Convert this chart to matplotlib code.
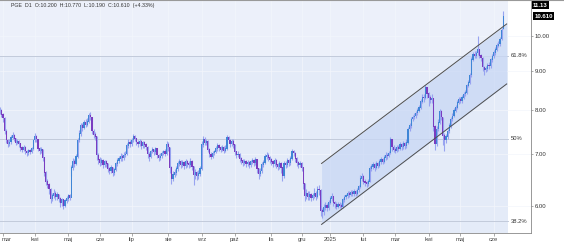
import matplotlib
matplotlib.use("Agg")
import matplotlib.pyplot as plt
import matplotlib.ticker as mticker
import matplotlib.transforms as mtrans
import numpy as np

plt.rcParams['font.family'] = ['Liberation Sans', 'DejaVu Sans']

# ---- data (PGE daily) ----
month_names = ['mar', 'kwi', 'maj', 'cze', 'lip', 'sie', 'wrz', 'paź', 'lis', 'gru',
               '2025', 'lut', 'mar', 'kwi', 'maj', 'cze']
# trading days per month, starting with the last 3 sessions of Feb 2024
month_days = [3, 20, 21, 20, 20, 23, 21, 21, 23, 19, 18, 21, 20, 21, 20, 21, 7]

first_open = 7.90
last_open = 10.20

closes = [
    7.95, 7.98, 7.88,
    7.80, 7.50, 7.30, 7.22, 7.26, 7.36, 7.40, 7.33, 7.25, 7.28, 7.22, 7.14, 7.10, 7.15, 7.06, 7.02, 7.08, 7.04, 7.12, 7.30,
    7.38, 7.32, 7.12, 7.06, 7.10, 6.92, 6.62, 6.45, 6.38, 6.30, 6.12, 6.18, 6.22, 6.15, 6.20, 6.12, 6.04, 6.10, 6.00, 6.08, 6.12,
    6.18, 6.14, 6.72, 6.85, 6.80, 6.95, 7.30, 7.45, 7.62, 7.58, 7.70, 7.65, 7.72, 7.86, 7.82, 7.50, 7.42, 7.38, 6.98, 6.88,
    6.82, 6.86, 6.78, 6.84, 6.80, 6.70, 6.66, 6.72, 6.62, 6.68, 6.80, 6.86, 6.90, 6.96, 6.92, 6.98, 7.00, 7.18, 7.25, 7.22,
    7.30, 7.38, 7.34, 7.26, 7.22, 7.28, 7.18, 7.24, 7.20, 7.15, 7.00, 6.95, 7.06, 7.10, 7.04, 7.12, 6.98, 6.92, 6.96, 7.02, 7.06, 7.00, 7.20,
    7.15, 6.72, 6.50, 6.58, 6.62, 6.70, 6.80, 6.84, 6.78, 6.82, 6.76, 6.84, 6.80, 6.78, 6.85, 6.74, 6.58, 6.62, 6.55, 6.60, 6.70,
    7.20, 7.32, 7.25, 7.28, 7.10, 7.00, 6.95, 7.02, 7.05, 7.12, 7.18, 7.14, 7.10, 7.15, 7.08, 7.12, 7.35, 7.30, 7.22, 7.28, 7.20,
    7.05, 6.98, 7.00, 6.90, 6.86, 6.82, 6.85, 6.80, 6.83, 6.78, 6.84, 6.86, 6.82, 6.88, 6.70, 6.60, 6.65, 6.78, 6.82, 6.95, 6.98, 6.92, 6.88,
    6.84, 6.80, 6.86, 6.78, 6.74, 6.80, 6.72, 6.55, 6.80, 6.78, 6.86, 6.82, 6.90, 7.05, 7.02, 6.90, 6.82, 6.78, 6.80,
    6.72, 6.40, 6.18, 6.22, 6.15, 6.20, 6.14, 6.18, 6.22, 6.16, 6.30, 6.28, 5.90, 5.88, 5.96, 6.00, 5.95, 6.05,
    6.12, 6.16, 6.05, 6.02, 5.98, 6.02, 6.00, 5.97, 6.10, 6.15, 6.18, 6.22, 6.20, 6.24, 6.21, 6.25, 6.22, 6.28, 6.34, 6.50, 6.55,
    6.45, 6.42, 6.40, 6.45, 6.70, 6.74, 6.78, 6.72, 6.80, 6.76, 6.84, 6.88, 6.85, 6.92, 6.98, 6.96, 7.02, 7.32, 7.15, 7.10,
    7.08, 7.15, 7.12, 7.20, 7.16, 7.22, 7.18, 7.25, 7.55, 7.62, 7.78, 7.82, 7.85, 7.92, 7.98, 8.05, 8.20, 8.30, 8.28, 8.55, 8.40,
    8.30, 8.25, 8.28, 7.60, 7.22, 7.55, 7.70, 7.95, 7.82, 7.40, 7.30, 7.38, 7.50, 7.62, 7.78, 7.85, 7.98, 8.05, 8.18, 8.25,
    8.22, 8.30, 8.38, 8.42, 8.60, 8.68, 8.88, 9.30, 9.45, 9.40, 9.48, 9.58, 9.42, 9.35, 9.10, 9.02, 9.05, 9.15, 9.12, 9.30, 9.40,
    9.50, 9.58, 9.70, 9.75, 9.90, 10.17, 10.61,
]
highs = [
    8.05, 8.08, 8.02,
    7.92, 7.82, 7.55, 7.34, 7.32, 7.42, 7.48, 7.44, 7.36, 7.34, 7.31, 7.25, 7.18, 7.20, 7.17, 7.10, 7.12, 7.11, 7.16, 7.34,
    7.46, 7.42, 7.34, 7.15, 7.16, 7.12, 6.95, 6.66, 6.50, 6.42, 6.32, 6.24, 6.30, 6.26, 6.25, 6.22, 6.15, 6.14, 6.12, 6.12, 6.18,
    6.22, 6.22, 6.78, 6.92, 6.90, 7.00, 7.36, 7.52, 7.68, 7.70, 7.76, 7.78, 7.80, 7.92, 7.94, 7.84, 7.56, 7.48, 7.40, 7.02,
    6.94, 6.92, 6.90, 6.88, 6.88, 6.82, 6.74, 6.78, 6.74, 6.72, 6.84, 6.92, 6.96, 7.02, 7.00, 7.04, 7.06, 7.24, 7.32, 7.30,
    7.36, 7.44, 7.42, 7.36, 7.30, 7.34, 7.30, 7.28, 7.28, 7.24, 7.17, 7.04, 7.10, 7.16, 7.12, 7.16, 7.14, 7.00, 7.02, 7.08, 7.10, 7.12, 7.28,
    7.26, 7.16, 6.75, 6.66, 6.70, 6.76, 6.86, 6.90, 6.88, 6.88, 6.86, 6.90, 6.88, 6.86, 6.92, 6.88, 6.76, 6.70, 6.66, 6.68, 6.76,
    7.28, 7.40, 7.38, 7.34, 7.30, 7.14, 7.04, 7.08, 7.10, 7.18, 7.24, 7.22, 7.18, 7.20, 7.18, 7.20, 7.42, 7.40, 7.34, 7.34, 7.32,
    7.22, 7.08, 7.06, 7.02, 6.94, 6.90, 6.90, 6.88, 6.88, 6.86, 6.88, 6.92, 6.90, 6.94, 6.90, 6.72, 6.72, 6.84, 6.88, 7.00, 7.04, 7.02, 6.96,
    6.92, 6.88, 6.92, 6.90, 6.82, 6.86, 6.84, 6.74, 6.86, 6.86, 6.92, 6.90, 6.96, 7.12, 7.10, 7.04, 6.94, 6.86, 6.86,
    6.84, 6.74, 6.42, 6.30, 6.26, 6.26, 6.24, 6.24, 6.32, 6.26, 6.36, 6.38, 6.30, 5.96, 6.02, 6.06, 6.04, 6.10,
    6.18, 6.24, 6.18, 6.08, 6.06, 6.06, 6.06, 6.04, 6.14, 6.20, 6.22, 6.26, 6.26, 6.28, 6.28, 6.30, 6.28, 6.33, 6.38, 6.58, 6.62,
    6.58, 6.50, 6.46, 6.50, 6.76, 6.80, 6.84, 6.82, 6.86, 6.84, 6.90, 6.94, 6.92, 6.98, 7.04, 7.02, 7.08, 7.38, 7.34, 7.20,
    7.16, 7.20, 7.20, 7.26, 7.24, 7.28, 7.26, 7.32, 7.60, 7.68, 7.84, 7.88, 7.92, 7.98, 8.04, 8.12, 8.26, 8.38, 8.40, 8.62, 8.58,
    8.44, 8.36, 8.38, 8.30, 7.64, 7.62, 7.78, 8.02, 8.00, 7.84, 7.46, 7.44, 7.56, 7.68, 7.84, 7.92, 8.04, 8.12, 8.24, 8.32,
    8.32, 8.36, 8.44, 8.50, 8.66, 8.76, 8.94, 9.38, 9.52, 9.54, 9.56, 9.98, 9.62, 9.46, 9.38, 9.14, 9.12, 9.22, 9.24, 9.36, 9.46,
    9.58, 9.66, 9.78, 9.84, 9.96, 10.24, 10.77,
]
lows = [
    7.86, 7.90, 7.82,
    7.72, 7.44, 7.24, 7.15, 7.18, 7.22, 7.32, 7.28, 7.20, 7.21, 7.16, 7.08, 7.04, 7.06, 7.01, 6.96, 6.98, 7.00, 7.02, 7.10,
    7.26, 7.26, 7.08, 7.00, 7.02, 6.86, 6.55, 6.38, 6.32, 6.22, 6.05, 6.08, 6.14, 6.10, 6.10, 6.06, 5.98, 6.00, 5.94, 5.97, 6.04,
    6.08, 6.10, 6.55, 6.68, 6.74, 6.78, 6.92, 7.26, 7.40, 7.50, 7.55, 7.60, 7.62, 7.70, 7.76, 7.44, 7.36, 7.30, 6.88, 6.80,
    6.76, 6.78, 6.72, 6.74, 6.74, 6.64, 6.60, 6.62, 6.56, 6.58, 6.66, 6.76, 6.82, 6.86, 6.86, 6.88, 6.94, 6.98, 7.14, 7.16,
    7.18, 7.26, 7.28, 7.20, 7.16, 7.18, 7.12, 7.14, 7.14, 7.10, 6.92, 6.86, 6.92, 7.02, 6.98, 7.00, 6.92, 6.86, 6.88, 6.92, 6.98, 6.96, 6.98,
    7.08, 6.62, 6.40, 6.46, 6.54, 6.58, 6.66, 6.76, 6.72, 6.74, 6.70, 6.72, 6.74, 6.72, 6.74, 6.68, 6.38, 6.50, 6.48, 6.50, 6.56,
    6.68, 7.16, 7.20, 7.20, 7.04, 6.94, 6.90, 6.92, 6.98, 7.02, 7.08, 7.08, 7.04, 7.06, 7.02, 7.04, 7.10, 7.24, 7.16, 7.18, 7.14,
    6.98, 6.92, 6.94, 6.84, 6.80, 6.76, 6.78, 6.74, 6.76, 6.72, 6.74, 6.80, 6.76, 6.78, 6.62, 6.50, 6.56, 6.62, 6.74, 6.80, 6.90, 6.86, 6.82,
    6.78, 6.74, 6.76, 6.72, 6.68, 6.70, 6.62, 6.46, 6.52, 6.72, 6.74, 6.76, 6.78, 6.88, 6.96, 6.84, 6.76, 6.72, 6.74,
    6.66, 6.30, 6.08, 6.12, 6.10, 6.10, 6.08, 6.10, 6.14, 6.10, 6.14, 6.20, 5.82, 5.78, 5.84, 5.92, 5.90, 5.92,
    6.02, 6.08, 6.00, 5.96, 5.94, 5.95, 5.96, 5.93, 5.96, 6.06, 6.12, 6.14, 6.16, 6.17, 6.17, 6.18, 6.18, 6.20, 6.25, 6.32, 6.46,
    6.40, 6.36, 6.35, 6.36, 6.44, 6.66, 6.70, 6.66, 6.70, 6.72, 6.74, 6.80, 6.80, 6.82, 6.88, 6.90, 6.94, 7.00, 7.08, 7.04,
    7.02, 7.04, 7.06, 7.10, 7.10, 7.12, 7.12, 7.14, 7.22, 7.50, 7.58, 7.74, 7.78, 7.80, 7.88, 7.94, 8.02, 8.16, 8.20, 8.26, 8.30,
    8.10, 8.16, 8.18, 7.50, 7.10, 7.18, 7.50, 7.66, 7.76, 7.20, 7.08, 7.24, 7.34, 7.46, 7.58, 7.74, 7.82, 7.94, 8.02, 8.14,
    8.16, 8.18, 8.26, 8.34, 8.40, 8.56, 8.64, 8.84, 9.26, 9.34, 9.36, 9.44, 9.36, 9.28, 9.00, 8.88, 8.96, 9.00, 9.04, 9.08, 9.24,
    9.36, 9.44, 9.54, 9.66, 9.70, 9.86, 10.19,
]

header = 'PGE  D1  O:10.200  H:10.770  L:10.190  C:10.610  (+4.33%)'
top_label = '11.13'
last_label = '10.610'
price_ticks = [6, 7, 8, 9, 10]

# fibonacci retracement levels and the box end (session index)
fib_names = ['38.2%', '50%', '61.8%']
fib_prices = [5.72, 7.34, 9.42]
fib_end = 321

# trend channel: start/end session and prices of both borders
chan_x = [203.6, 320.2]
chan_upper = [6.81, 10.36]
chan_lower = [5.67, 8.65]

# ---- build ----
n = len(closes)
idx = np.arange(n)
opens = [first_open] + closes[:-1]
opens[-1] = last_open
opens = np.array(opens)
closes = np.array(closes)
month_start = np.cumsum([0] + month_days[:-1])[1:]

fig = plt.figure(figsize=(5.64, 2.44), dpi=100)
ax = fig.add_axes([0.0, 0.0463, 0.9415, 0.9496])
ax.set_yscale('log')
x_lo, x_hi = 1.1, 335.5
y_lo, y_hi = 5.53, 11.10
ax.set_xlim(x_lo, x_hi)
ax.set_ylim(y_lo, y_hi)

# fibo background
ax.fill_between([x_lo, fib_end], y_lo, fib_prices[2], color='#e4ebf8', lw=0, zorder=0)
ax.fill_between([x_lo, fib_end], fib_prices[2], y_hi, color='#ecf0fa', lw=0, zorder=0)
for name, p in zip(fib_names, fib_prices):
    ax.plot([x_lo, fib_end], [p, p], color='#c2cadb', lw=0.7, zorder=1)
    ax.text(fib_end + 1.5, p, name, fontsize=4.2, color='#333333', va='center', ha='left')

# grid
for m in month_start:
    ax.axvline(m, color='#f3f6fc', lw=0.5, zorder=0.5)
for p in price_ticks:
    ax.axhline(p, color='#f3f6fc', lw=0.5, zorder=0.5)

# channel
ax.fill_between(chan_x, chan_lower, chan_upper, color='#c9d8f5', alpha=0.75, lw=0, zorder=1)
ax.plot(chan_x, chan_upper, color='#4d4d4d', lw=0.7, zorder=4)
ax.plot(chan_x, chan_lower, color='#4d4d4d', lw=0.7, zorder=4)

# candles
up = closes >= opens
ax.vlines(idx, lows, highs, color='#98a3f0', lw=0.8, zorder=2)
body_lo = np.minimum(opens, closes)
body_h = np.abs(closes - opens) + 0.015
ax.bar(idx[up], body_h[up], bottom=body_lo[up], width=0.75, color='#3f86d6', lw=0, zorder=3)
ax.bar(idx[~up], body_h[~up], bottom=body_lo[~up], width=0.75, color='#7a3cc0', lw=0, zorder=3)

# axes styling
for s in ['left', 'top']:
    ax.spines[s].set_visible(False)
ax.spines['right'].set_color('#888888')
ax.spines['bottom'].set_color('#888888')
ax.spines['right'].set_linewidth(0.6)
ax.spines['bottom'].set_linewidth(0.6)

ax.yaxis.tick_right()
ax.yaxis.set_major_locator(mticker.FixedLocator(price_ticks))
ax.yaxis.set_major_formatter(mticker.FormatStrFormatter('%.2f'))
ax.yaxis.set_minor_locator(mticker.NullLocator())
ax.tick_params(axis='y', labelsize=4.3, length=1.5, width=0.5, pad=1.2,
               colors='#888888', labelcolor='#333333')
ax.set_xticks(month_start)
ax.set_xticklabels(month_names)
ax.tick_params(axis='x', labelsize=4.2, length=2, width=0.5, pad=1,
               colors='#888888', labelcolor='#444444')
# first month label sits on the left edge: keep it inside the picture
first = ax.get_xticklabels()[0]
first.set_horizontalalignment('left')
first.set_transform(first.get_transform() +
                    mtrans.ScaledTranslation(-1.5 / 100, 0, fig.dpi_scale_trans))

# top border and header
fig.add_artist(plt.Line2D([0, 1], [0.998, 0.998], color='#999999', lw=0.8))
fig.text(11 / 564, 1 - 5.5 / 244, header, fontsize=3.8, color='#333333',
         va='center', ha='left')

# price boxes on the right axis
ax.text(1.004, 0.993, top_label, transform=ax.transAxes, fontsize=4.3, color='white',
        fontweight='bold', va='top', ha='left',
        bbox=dict(boxstyle='square,pad=0.2', fc='black', ec='none'))
ax.annotate(last_label, xy=(1.0, closes[-1]), xycoords=('axes fraction', 'data'),
            xytext=(2.5, 0), textcoords='offset points', fontsize=4.3, color='white',
            fontweight='bold', va='center', ha='left',
            bbox=dict(boxstyle='square,pad=0.2', fc='black', ec='none'))

fig.savefig('out.png', dpi=100, facecolor='white')
